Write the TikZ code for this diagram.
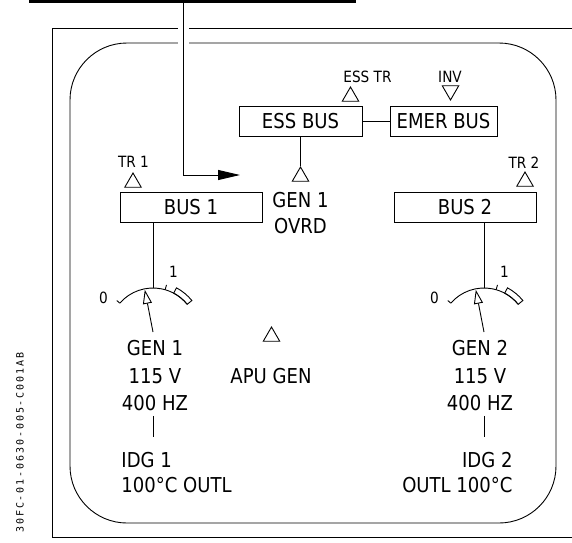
\documentclass[tikz,border=0pt]{standalone}
\usepackage{fontspec}
\setmainfont{DejaVu Sans}[FakeStretch=0.88]
\newfontfamily\tagfont{DejaVu Sans Mono}[LetterSpace=19]
\usetikzlibrary{arrows.meta,calc,shapes.geometric}

\tikzset{
  bus/.style={draw,minimum height=30pt,inner sep=0pt,font=\fontsize{20.5}{24}\selectfont},
  lbl/.style={inner sep=0pt,font=\fontsize{20.5}{24}\selectfont},
  small/.style={inner sep=0pt,font=\fontsize{15.5}{18}\selectfont},
  tri/.style={draw,regular polygon,regular polygon sides=3,minimum size=19pt,inner sep=0pt},
}

\begin{document}
\begin{tikzpicture}[x=1pt,y=-1pt,line width=0.9pt]
\useasboundingbox (0,0) rectangle (572,542);
% frames
\draw (572,28) -- (52,28) -- (52,537) -- (572,537);
\draw[rounded corners=57pt] (70,43) rectangle (556,523);
% feeder from the top bar
\coordinate (barL) at (29,1.5);
\coordinate (barR) at (356,1.5);
\coordinate (feed) at (183,1.5);
\coordinate (ptr) at (240,175);
\draw[line width=3pt] (barL) -- (barR);
\draw[white,line width=11pt] (183,22) -- (183,50);
\draw[-{Triangle[length=22pt,width=10pt]}] (feed) |- (ptr);
% buses
\node[bus,minimum width=123pt] (essbus) at (300.5,121) {ESS BUS};
\node[bus,minimum width=107pt] (emerbus) at (443.5,121) {EMER BUS};
\node[bus,minimum width=142pt] (bus1) at (191,207.5) {BUS 1};
\node[bus,minimum width=142pt] (bus2) at (465,207.5) {BUS 2};
\draw (essbus) -- (emerbus);
% sources
\node[small,anchor=base] (esstrl) at (367.5,82) {ESS TR};
\node[tri] (esstr) at (350.5,96.5) {};
\node[small,anchor=base] (invl) at (450,82) {INV};
\node[tri,shape border rotate=180] (inv) at (450.5,90.5) {};
\node[small,anchor=base] (tr1l) at (133.5,167) {TR 1};
\node[tri] (tr1) at (133,182.5) {};
\node[small,anchor=base] (tr2l) at (524,168) {TR 2};
\node[tri] (tr2) at (525,181.5) {};
\node[tri] (ovrd) at (300.5,176.5) {};
\draw (essbus.south) -- (ovrd.corner 1);
\node[lbl,anchor=base] (ovrd1) at (300.5,207) {GEN 1};
\node[lbl,anchor=base] (ovrd2) at (300.5,233) {OVRD};
\node[tri] (apu) at (271.5,336.5) {};
\node[lbl,anchor=base] (apul) at (271,383) {APU GEN};
% gauges
\foreach \gx/\gn in {153/1,484/2}{
  \coordinate (g\gn) at (\gx,332);
  \draw ($(g\gn)+(-139:44)$) arc[start angle=-139,end angle=-39,radius=44];
  \draw ($(g\gn)+(-139:44)$) -- ($(g\gn)+(-139:48)$);
  \draw ($(g\gn)+(-74:44)$) -- ($(g\gn)+(-74:49)$);
  \draw ($(g\gn)+(-62:44)$) arc[start angle=-62,end angle=-39,radius=44]
    -- ($(g\gn)+(-39:50)$) arc[start angle=-39,end angle=-62,radius=50] -- cycle;
  \draw[-{Triangle[open,length=14pt,width=9pt]}] (g\gn) -- ($(g\gn)+(-101:43)$);
  \node[small] (zero\gn) at ($(g\gn)+(-49.5,-34.5)$) {0};
  \node[small] (one\gn) at ($(g\gn)+(20.5,-60)$) {1};
  \draw (bus\gn.south -| g\gn) -- ($(g\gn)+(0,-44)$);
}
% generator 1
\node[lbl,anchor=base] (gen1) at (155,355) {GEN 1};
\node[lbl,anchor=base] (volt1) at (155,383) {115 V};
\node[lbl,anchor=base] (freq1) at (155,410) {400 HZ};
\node[lbl,anchor=base west] (idg1) at (121,467) {IDG 1};
\node[lbl,anchor=base west] (oil1) at (121,492) {100°C OUTL};
\draw ([yshift=-5pt]freq1.south -| g1) -- ([yshift=14pt]idg1.north -| g1);
% generator 2
\node[lbl,anchor=base] (gen2) at (480,355) {GEN 2};
\node[lbl,anchor=base] (volt2) at (480,383) {115 V};
\node[lbl,anchor=base] (freq2) at (480,410) {400 HZ};
\node[lbl,anchor=base east] (idg2) at (513,467) {IDG 2};
\node[lbl,anchor=base east] (oil2) at (513,492) {OUTL 100°C};
\draw ([yshift=-5pt]freq2.south -| g2) -- ([yshift=14pt]idg2.north -| g2);
% drawing tag
\node[rotate=90,anchor=east,inner sep=0pt,font=\tagfont\fontsize{10}{12}\selectfont] (tag) at (20,352) {30FC-01-0630-005-C001AB};
\end{tikzpicture}
\end{document}
